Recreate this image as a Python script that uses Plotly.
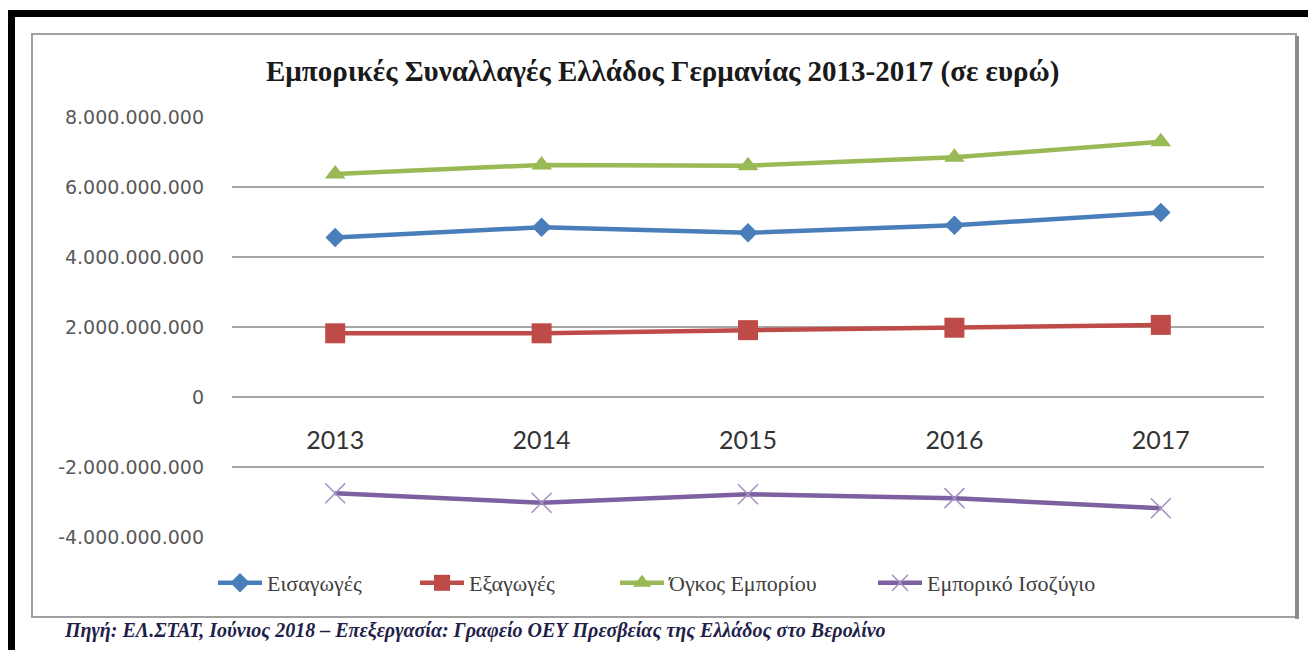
import plotly.graph_objects as go

# ---- data ----
years = ["2013", "2014", "2015", "2016", "2017"]
imports = [4.56e9, 4.85e9, 4.69e9, 4.91e9, 5.27e9]
exports = [1.82e9, 1.82e9, 1.91e9, 1.98e9, 2.06e9]
volume = [6.37e9, 6.63e9, 6.61e9, 6.85e9, 7.29e9]
balance = [-2.75e9, -3.02e9, -2.78e9, -2.89e9, -3.18e9]

series_names = ["Εισαγωγές", "Εξαγωγές", "Όγκος Εμπορίου", "Εμπορικό Ισοζύγιο"]
y_tickvals = [8e9, 6e9, 4e9, 2e9, 0, -2e9, -4e9]
y_ticktext = ["8.000.000.000", "6.000.000.000", "4.000.000.000", "2.000.000.000",
              "0", "-2.000.000.000", "-4.000.000.000"]

title_text = "Εμπορικές Συναλλαγές Ελλάδος Γερμανίας 2013-2017 (σε ευρώ)"
source_text = "Πηγή: ΕΛ.ΣΤΑΤ, Ιούνιος 2018 – Επεξεργασία: Γραφείο ΟΕΥ Πρεσβείας της Ελλάδος στο Βερολίνο"

# ---- layout geometry (pixels) ----
W, H = 1308, 650
L, R, T, B = 232, 44, 117, 113
PW, PH = W - L - R, H - T - B


def px(x):
    return (x - L) / PW


def py(y):
    return (H - B - y) / PH


fig = go.Figure()

fig.add_trace(go.Scatter(
    x=years, y=imports, name=series_names[0], mode="lines+markers", legend="legend",
    line=dict(color="#4A7EBB", width=4.5),
    marker=dict(symbol="diamond", size=15, color="#4A7EBB")))
fig.add_trace(go.Scatter(
    x=years, y=exports, name=series_names[1], mode="lines+markers", legend="legend2",
    line=dict(color="#BE4B48", width=4.5),
    marker=dict(symbol="square", size=20, color="#BE4B48")))
fig.add_trace(go.Scatter(
    x=years, y=volume, name=series_names[2], mode="lines+markers", legend="legend3",
    line=dict(color="#98B954", width=4.5),
    marker=dict(symbol="triangle-up", size=18, color="#98B954")))
fig.add_trace(go.Scatter(
    x=years, y=balance, name=series_names[3], mode="lines+markers", legend="legend4",
    line=dict(color="#7D60A0", width=4.5),
    marker=dict(symbol="x-thin", size=20, color="#A48FC2",
                line=dict(width=1.5, color="#A48FC2"))))

shapes = [
    # outer black frame (top and left)
    dict(type="rect", xref="paper", yref="paper", x0=px(8), x1=px(1308), y0=py(10), y1=py(17),
         fillcolor="black", line=dict(width=0), layer="above"),
    dict(type="rect", xref="paper", yref="paper", x0=px(8), x1=px(15), y0=py(10), y1=py(650),
         fillcolor="black", line=dict(width=0), layer="above"),
    # chart box
    dict(type="rect", xref="paper", yref="paper", x0=px(32), x1=px(1296), y0=py(34), y1=py(617),
         fillcolor="rgba(0,0,0,0)", line=dict(width=2, color="#A0A0A0"), layer="below"),
    dict(type="rect", xref="paper", yref="paper", x0=px(1295), x1=px(1299), y0=py(36), y1=py(619),
         fillcolor="#8C8C8C", line=dict(width=0), layer="below"),
]

legend_font = dict(family="Liberation Serif, serif", size=22, color="#404040")
legend_x = [213, 415, 615, 873]


def leg(xpix):
    return dict(orientation="h", x=px(xpix), xanchor="left", y=py(583), yanchor="middle",
                font=legend_font, bgcolor="rgba(0,0,0,0)", itemwidth=44)


fig.update_layout(
    width=W, height=H,
    margin=dict(l=L, r=R, t=T, b=B),
    paper_bgcolor="white", plot_bgcolor="white",
    font=dict(family="Liberation Serif, serif", size=22, color="#404040"),
    shapes=shapes,
    showlegend=True,
    legend=leg(legend_x[0]), legend2=leg(legend_x[1]),
    legend3=leg(legend_x[2]), legend4=leg(legend_x[3]),
    annotations=[
        dict(text="<b>" + title_text + "</b>", xref="paper", yref="paper",
             x=px(662), y=py(72), xanchor="center", yanchor="middle", showarrow=False,
             font=dict(family="Liberation Serif", size=29, color="#1A1A1A")),
        dict(text="<b><i>" + source_text + "</i></b>", xref="paper", yref="paper",
             x=px(62), y=py(630), xanchor="left", yanchor="middle", showarrow=False,
             font=dict(family="Liberation Serif", size=20, color="#1F1F4A")),
    ],
)

fig.update_yaxes(range=[-4e9, 8e9], tickvals=y_tickvals, ticktext=y_ticktext,
                 showgrid=True, gridcolor="#A6A6A6", gridwidth=1.5, zeroline=False,
                 showline=False, ticks="", ticklabelstandoff=27,
                 tickfont=dict(family="DejaVu Sans", size=19, color="#595959"))
fig.update_xaxes(type="category", range=[-0.5, 4.5], anchor="free", position=py(397),
                 showgrid=False, showline=False, zeroline=False, ticks="",
                 ticklabelstandoff=26,
                 tickfont=dict(family="Lato", size=25, color="#333333"))

fig.write_html("out.html", config={"displayModeBar": False},
               post_script="document.body.style.margin='0';")
